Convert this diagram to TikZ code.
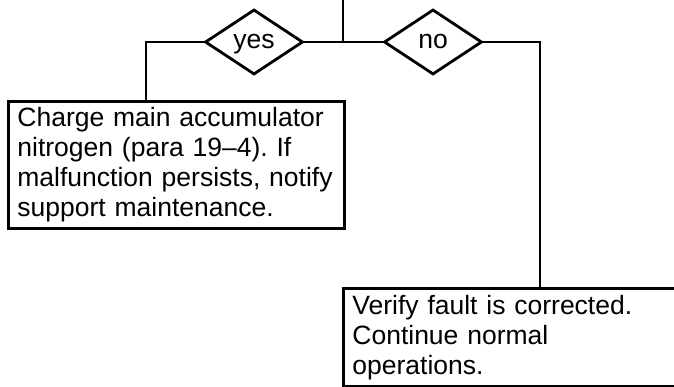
\documentclass[tikz,border=0pt]{standalone}
\usepackage{fontspec}
\setmainfont{Liberation Sans}
\usepackage{tikz}
\usetikzlibrary{shapes.geometric, positioning}
\frenchspacing

\begin{document}
\begin{tikzpicture}[x=1pt, y=-1pt,
  decision/.style={diamond, draw=black, line width=2.8pt, minimum width=98pt, minimum height=65pt,
    inner sep=0pt, aspect=1.5, text height=14pt, text depth=0pt, font=\fontsize{26.5}{30}\selectfont},
  actionbox/.style={rectangle, draw=black, line width=2.8pt, anchor=north west, align=left,
    text width=318pt, inner xsep=9pt, inner ysep=4pt, font=\fontsize{26.5}{30}\selectfont},
  link/.style={line width=2.8pt, color=black}
]
\useasboundingbox (0,0) rectangle (674,387);

\coordinate (top) at (343,-2);
\coordinate (junc) at (343,42);
\node[decision] (yes) at (254,42) {yes};
\node[decision] (no) at (433,42) {no};
\coordinate (ycorner) at (146,42);
\coordinate (ncorner) at (540,42);

\node[actionbox, minimum height=127pt] (charge) at (7,100) {Charge main accumulator\\nitrogen (para 19--4). If\\malfunction persists, notify\\support maintenance.};
\node[actionbox, minimum height=98pt] (verify) at (342,287) {Verify fault is corrected.\\Continue normal\\operations.};

\draw[link] (top) -- (junc);
\draw[link] (yes.east) -- (no.west);
\draw[link] (yes.west) -- (ycorner) -- (ycorner |- charge.north);
\draw[link] (no.east) -- (ncorner) -- (ncorner |- verify.north);
\end{tikzpicture}
\end{document}
